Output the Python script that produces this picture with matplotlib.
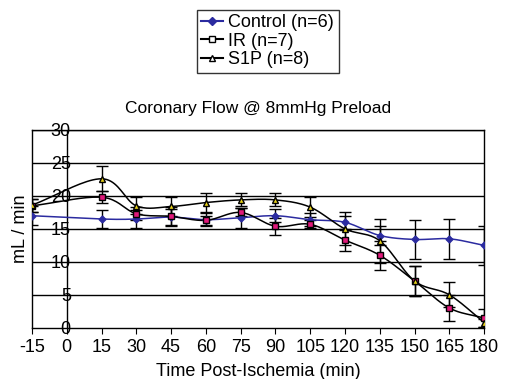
import numpy as np
import matplotlib
matplotlib.use("Agg")
from matplotlib import pyplot as plt
from matplotlib.lines import Line2D

plt.rcParams['font.family'] = ['Liberation Sans', 'DejaVu Sans']

# time points (min)
times = [-15, 0, 15, 30, 45, 60, 75, 90, 105, 120, 135, 150, 165, 180]
tick_labels = [str(t) for t in times]

t_data = [-15, 15, 30, 45, 60, 75, 90, 105, 120, 135, 150, 165, 180]
control = [17.0, 16.5, 16.5, 16.8, 16.4, 16.7, 17.0, 16.4, 16.0, 14.0, 13.4, 13.5, 12.5]
control_err = [1.4, 1.35, 1.4, 1.2, 1.0, 1.5, 1.0, 1.0, 1.0, 1.4, 3.0, 3.0, 2.9]
ir = [18.5, 19.8, 17.3, 16.9, 16.3, 17.5, 15.4, 15.7, 13.3, 11.0, 7.1, 3.0, 1.5]
ir_err = [1.0, 0.9, 1.0, 1.4, 0.7, 0.6, 1.3, 0.6, 1.6, 2.2, 2.3, 2.0, 1.4]
s1p = [18.6, 22.6, 18.5, 18.4, 19.0, 19.4, 19.4, 18.3, 15.0, 13.2, 7.1, 5.0, 0.8]
s1p_err = [1.0, 1.9, 1.3, 1.4, 1.4, 1.0, 1.0, 1.5, 2.5, 3.3, 2.3, 1.9, 0.6]


def smooth(x, y, n=20):
    """Catmull-Rom style curve through the points, like Excel smoothed lines"""
    x = np.asarray(x, float)
    y = np.asarray(y, float)
    px = np.concatenate([[2 * x[0] - x[1]], x, [2 * x[-1] - x[-2]]])
    py = np.concatenate([[2 * y[0] - y[1]], y, [2 * y[-1] - y[-2]]])
    xs, ys = [], []
    s = np.linspace(0, 1, n, endpoint=False)
    for i in range(1, len(px) - 2):
        for arr, out in ((px, xs), (py, ys)):
            p0, p1, p2, p3 = arr[i - 1], arr[i], arr[i + 1], arr[i + 2]
            out.extend(0.5 * ((2 * p1) + (-p0 + p2) * s
                              + (2 * p0 - 5 * p1 + 4 * p2 - p3) * s ** 2
                              + (-p0 + 3 * p1 - 3 * p2 + p3) * s ** 3))
    xs.append(x[-1])
    ys.append(y[-1])
    return xs, ys


fig = plt.figure(figsize=(5.07, 3.79), dpi=100)
ax = fig.add_axes([0.063, 0.135, 0.892, 0.522])

for yv in range(5, 31, 5):
    ax.axhline(yv, color="black", lw=1.0, zorder=1)
ax.axvline(0, color="black", lw=1.0, zorder=1)

series = [
    (control, control_err, "#2b2ba0", "D", "#2b2ba0", 3.5),
    (ir, ir_err, "black", "s", "#e0197a", 4.5),
    (s1p, s1p_err, "black", "^", "#e8d21a", 5),
]
for vals, err, col, mk, fc, ms in series:
    sx, sy = smooth(t_data, vals)
    ax.plot(sx, sy, color=col, lw=1.1, zorder=3)
    ax.errorbar(t_data, vals, yerr=err, fmt="none", ecolor="black",
                elinewidth=1.0, capsize=4, capthick=1.0, zorder=2)
    ax.plot(t_data, vals, ls="none", marker=mk, ms=ms, mfc=fc,
            mec=col, mew=1.0, zorder=4)

ax.set_xlim(-15, 180)
ax.set_ylim(0, 30)
ax.set_xticks(times)
ax.set_xticklabels(tick_labels, fontsize=13)
ax.set_yticks(range(0, 31, 5))
ax.set_yticklabels([str(v) for v in range(0, 31, 5)], fontsize=13)
ax.tick_params(axis="x", direction="out", length=4, pad=4)
ax.tick_params(axis="y", length=0, pad=-28)
for sp in ax.spines.values():
    sp.set_linewidth(1.0)

ax.set_title("Coronary Flow @ 8mmHg Preload", fontsize=12.5, pad=12)
ax.set_xlabel("Time Post-Ischemia (min)", fontsize=13, labelpad=5)
ax.set_ylabel("mL / min", fontsize=13, labelpad=2)

handles = [
    Line2D([], [], color="#2b2ba0", marker="D", ms=4, mfc="#2b2ba0"),
    Line2D([], [], color="black", marker="s", ms=5, mfc="white"),
    Line2D([], [], color="black", marker="^", ms=5, mfc="white"),
]
leg = fig.legend(handles, ["Control (n=6)", "IR (n=7)", "S1P (n=8)"],
                 loc="upper center", bbox_to_anchor=(0.528, 0.974),
                 fontsize=13, frameon=True, fancybox=False, edgecolor="black",
                 handlelength=1.2, handletextpad=0.3, labelspacing=0.08,
                 borderpad=0.25, borderaxespad=0)
leg.get_frame().set_linewidth(1.0)

fig.savefig("out.png", dpi=100)
